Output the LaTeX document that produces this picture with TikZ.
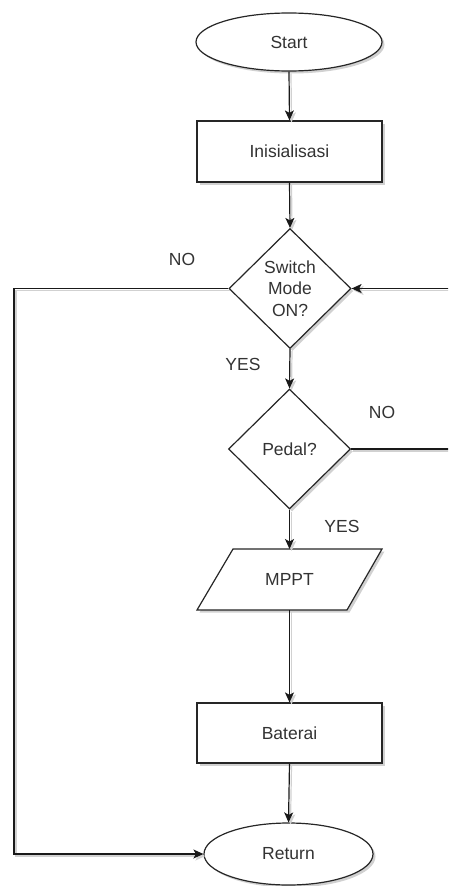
\documentclass[tikz,border=0pt]{standalone}
\usepackage{fontspec}
\setmainfont{Liberation Sans}
\usetikzlibrary{shapes.geometric,arrows.meta,shadows}
\begin{document}
\begin{tikzpicture}[x=1pt,y=-1pt,
  txt/.style={text=black!80,font=\fontsize{17.5}{21.7}\selectfont},
  shd/.style={drop shadow={shadow xshift=2.5pt,shadow yshift=-2.5pt,fill=black!18,opacity=1}},
  box/.style={txt,draw=black!85,line width=1.2pt,fill=white,shd,inner sep=0pt},
  term/.style={box,ellipse},
  proc/.style={box,rectangle,minimum width=185,minimum height=61},
  dec/.style={box,diamond,aspect=1,minimum width=122,minimum height=120,align=center},
  conn/.style={draw=black!90,line width=1.2pt,
    preaction={draw=black!18,line width=1.2pt,transform canvas={shift={(2pt,-2pt)}}}},
  arr/.style={conn,-{Stealth[length=10pt,width=9pt,inset=2.5pt]}},
  lbl/.style={txt,inner sep=0pt}]
\useasboundingbox (0,0) rectangle (448,886);
\clip (0,0) rectangle (448,886);

\node[term,minimum width=186,minimum height=58] (start) at (289,42) {Start};
\node[proc] (init) at (289.5,151.5) {Inisialisasi};
\node[dec] (sw) at (290,288.5) {Switch\\Mode\\ON?};
\node[dec] (pedal) at (289.5,449) {Pedal?};
% MPPT parallelogram
\draw[line width=1.2pt,draw=black!85,fill=white,shd] (197,610) -- (233,549) -- (382,549) -- (347,610) -- cycle;
\node[txt,minimum width=150,minimum height=61,inner sep=0pt] (mppt) at (289.5,579.5) {MPPT};
\node[proc,minimum height=60] (bat) at (289.5,733) {Baterai};
\node[term,minimum width=169,minimum height=62] (ret) at (288.5,854) {Return};

\coordinate (lft1) at (14,288.5);
\coordinate (lft2) at (14,854);
\coordinate (rgt1) at (470,449);
\coordinate (rgt2) at (470,288.5);

\draw[arr] (start.south) -- (init.north);
\draw[arr] (init.south) -- (sw.north);
\draw[arr] (sw.south) -- (pedal.north);
\draw[arr] (pedal.south) -- (289.5,549);
\draw[arr] (289.5,610) -- (bat.north);
\draw[arr] (bat.south) -- (ret.north);
\draw[arr] (sw.west) -- (lft1) -- (lft2) -- (ret.west);
\draw[arr] (pedal.east) -- (rgt1) -- (rgt2) -- (sw.east);

\node[lbl] (no1) at (182,259) {NO};
\node[lbl] (yes1) at (243,364) {YES};
\node[lbl] (no2) at (382,412) {NO};
\node[lbl] (yes2) at (342,526) {YES};
\end{tikzpicture}
\end{document}
